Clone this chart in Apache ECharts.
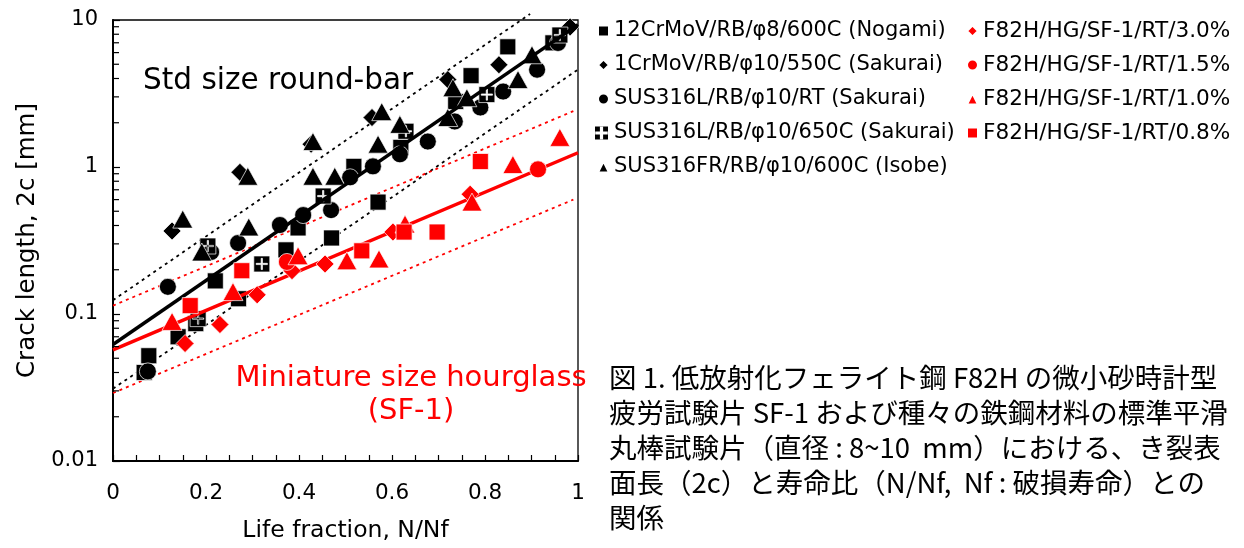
<!DOCTYPE html>
<html>
<head>
<meta charset="utf-8">
<script src="https://cdn.jsdelivr.net/npm/echarts@6/dist/echarts.min.js"></script>
<style>
  html, body { margin: 0; padding: 0; background: #fff; }
  #chart { width: 1244px; height: 548px; }
</style>
</head>
<body>
<div id="chart"></div>
<script>
// Crack length 2c [mm] versus life fraction N/Nf, per material / test condition
const nogami12CrMoV = [[0.067,0.040],[0.077,0.052],[0.14,0.070],[0.178,0.086],[0.22,0.168],[0.27,0.127],
  [0.372,0.273],[0.398,0.385],[0.47,0.329],[0.518,1.01],[0.57,0.577],[0.619,1.36],[0.737,2.79],
  [0.77,4.18],[0.849,6.57],[0.946,6.99]];
const sakurai1CrMoV = [[0.127,0.367],[0.273,0.92],[0.426,1.43],[0.557,2.17],[0.72,3.93],[0.83,4.96],[0.983,8.97]];
const sakurai316L_RT = [[0.075,0.0407],[0.118,0.153],[0.211,0.264],[0.269,0.304],[0.359,0.403],[0.409,0.471],
  [0.469,0.509],[0.51,0.851],[0.559,1.01],[0.617,1.22],[0.677,1.49],[0.735,2.04],[0.79,2.54],
  [0.839,3.26],[0.912,4.59],[0.957,6.98]];
const sakurai316L_650 = [[0.183,0.093],[0.204,0.29],[0.32,0.219],[0.452,0.634],[0.63,1.75],[0.804,3.11],[0.961,7.9]];
const isobe316FR = [[0.15,0.442],[0.191,0.264],[0.29,0.865],[0.292,0.391],[0.43,0.865],[0.43,1.49],[0.477,0.865],
  [0.57,1.43],[0.578,2.38],[0.617,1.95],[0.72,2.17],[0.731,3.46],[0.761,2.96],[0.871,3.93],[0.901,5.8]];
const f82h30 = [[0.155,0.063],[0.23,0.0848],[0.31,0.135],[0.385,0.197],[0.456,0.219],[0.602,0.361],[0.768,0.653]];
const f82h15 = [[0.374,0.226],[0.914,0.964]];
const f82h10 = [[0.127,0.089],[0.258,0.142],[0.398,0.249],[0.503,0.23],[0.572,0.237],[0.628,0.409],
  [0.772,0.577],[0.86,1.04],[0.961,1.59]];
const f82h08 = [[0.166,0.114],[0.277,0.197],[0.535,0.269],[0.626,0.361],[0.697,0.361],[0.79,1.09]];

// Trend lines (straight on the log scale) and their x2 / x0.5 scatter bands
const fitStd = [[0, 0.062], [1, 9.3]];
const bandStdUpper = [[0, 0.124], [0.897, 11.0]];
const bandStdLower = [[0, 0.031], [1, 4.6]];
const fitSF1 = [[0, 0.057], [1, 1.25]];
const bandSF1Upper = [[0, 0.114], [0.99, 2.4]];
const bandSF1Lower = [[0, 0.029], [0.99, 0.6]];

// Tick labels
const xTickLabels = ['0', '0.2', '0.4', '0.6', '0.8', '1'];
const yTickLabels = ['0.01', '0.1', '1', '10'];

const seriesNames = [
  '12CrMoV/RB/φ8/600C (Nogami)',
  '1CrMoV/RB/φ10/550C (Sakurai)',
  'SUS316L/RB/φ10/RT (Sakurai)',
  'SUS316L/RB/φ10/650C (Sakurai)',
  'SUS316FR/RB/φ10/600C (Isobe)',
  'F82H/HG/SF-1/RT/3.0%',
  'F82H/HG/SF-1/RT/1.5%',
  'F82H/HG/SF-1/RT/1.0%',
  'F82H/HG/SF-1/RT/0.8%'
];

// Black square with a white plus cut out (opposite winding makes the hole)
const plusSquare = 'path://M0,0L20,0L20,20L0,20Z M9.2,3L9.2,9.2L3,9.2L3,10.8L9.2,10.8L9.2,17L10.8,17L10.8,10.8L17,10.8L17,9.2L10.8,9.2L10.8,3Z';

const FONT = 'DejaVu Sans';
const RED = '#ff0000';

// Log-spaced minor ticks for the vertical axis
const yMinor = [];
[0.01, 0.1, 1].forEach(d => { for (let m = 2; m <= 9; m++) yMinor.push([0, +(d * m).toPrecision(3)]); });

function scatter(name, data, symbol, size, color, z) {
  return {
    name, type: 'scatter', data, symbol, symbolSize: size,
    itemStyle: { color, borderColor: '#fff', borderWidth: 0.7, opacity: 1 },
    emphasis: { disabled: true }, z: z || 3
  };
}
function line(data, color, width, dotted) {
  return {
    type: 'line', data, symbol: 'none', silent: true, clip: false,
    lineStyle: { color, width, type: dotted ? [3, 4] : 'solid', cap: 'butt' },
    z: dotted ? 1 : 4
  };
}
function legendBlock(items, left, top, size, fontSize) {
  return {
    data: items, orient: 'vertical', left, top, itemGap: 10,
    itemWidth: size, itemHeight: size, selectedMode: false,
    textStyle: { fontFamily: FONT, fontSize, color: '#000', lineHeight: 24 }
  };
}

const chart = echarts.init(document.getElementById('chart'), null, { renderer: 'canvas' });

chart.setOption({
  animation: false,
  backgroundColor: '#fff',
  textStyle: { fontFamily: FONT },
  grid: { left: 113, right: 666, top: 20, bottom: 85, show: true, borderColor: '#000', borderWidth: 1.3, backgroundColor: 'transparent' },
  xAxis: {
    type: 'value', min: 0, max: 1, interval: 0.05,
    name: 'Life fraction, N/Nf', nameLocation: 'middle', nameGap: 58,
    nameTextStyle: { fontFamily: FONT, fontSize: 23.5, color: '#000' },
    axisLine: { lineStyle: { color: '#000', width: 2 } },
    axisTick: { inside: true, length: 6, lineStyle: { color: '#000', width: 1.2 } },
    splitLine: { show: false },
    axisLabel: {
      fontFamily: FONT, fontSize: 21.5, color: '#000', margin: 21,
      formatter: v => xTickLabels.find(s => Math.abs(parseFloat(s) - v) < 1e-6) || ''
    }
  },
  yAxis: {
    type: 'log', logBase: 10, min: 0.01, max: 10,
    name: 'Crack length, 2c [mm]', nameLocation: 'middle', nameGap: 73,
    nameTextStyle: { fontFamily: FONT, fontSize: 24.5, color: '#000' },
    axisLine: { lineStyle: { color: '#000', width: 2 } },
    axisTick: { inside: true, length: 7, lineStyle: { color: '#000', width: 1.2 } },
    splitLine: { show: false },
    axisLabel: {
      fontFamily: FONT, fontSize: 21, color: '#000', margin: 15,
      formatter: v => yTickLabels.find(s => Math.abs(parseFloat(s) - v) / v < 1e-6) || ''
    }
  },
  legend: [
    legendBlock([
      { name: seriesNames[0], icon: 'rect' },
      { name: seriesNames[1], icon: 'diamond' },
      { name: seriesNames[2], icon: 'circle' }
    ], 592, 14, 11, 21),
    legendBlock([{ name: seriesNames[3], icon: plusSquare }], 588, 116, 15, 21),
    legendBlock([{ name: seriesNames[4], icon: 'triangle' }], 592, 150, 11, 21),
    legendBlock([
      { name: seriesNames[5], icon: 'diamond' },
      { name: seriesNames[6], icon: 'circle' },
      { name: seriesNames[7], icon: 'triangle' },
      { name: seriesNames[8], icon: 'rect' }
    ], 961, 14, 11, 21.6)
  ],
  series: [
    line(bandStdUpper, '#000', 1.8, true),
    line(bandStdLower, '#000', 1.8, true),
    line(bandSF1Upper, RED, 1.8, true),
    line(bandSF1Lower, RED, 1.8, true),
    scatter(seriesNames[0], nogami12CrMoV, 'rect', 16, '#000'),
    scatter(seriesNames[1], sakurai1CrMoV, 'diamond', 18, '#000'),
    scatter(seriesNames[2], sakurai316L_RT, 'circle', 17, '#000'),
    scatter(seriesNames[3], sakurai316L_650, plusSquare, 16, '#000'),
    scatter(seriesNames[4], isobe316FR, 'triangle', [20, 18], '#000'),
    line(fitStd, '#000', 3.5, false),
    line(fitSF1, RED, 3.5, false),
    scatter(seriesNames[5], f82h30, 'diamond', 18, RED, 5),
    scatter(seriesNames[6], f82h15, 'circle', 17, RED, 5),
    scatter(seriesNames[7], f82h10, 'triangle', [20, 18], RED, 5),
    scatter(seriesNames[8], f82h08, 'rect', 16, RED, 5),
    {
      type: 'custom', silent: true, data: yMinor, z: 6,
      renderItem: (params, api) => {
        const p = api.coord([0, api.value(1)]);
        return { type: 'line', shape: { x1: p[0], y1: p[1], x2: p[0] + 6, y2: p[1] },
                 style: { stroke: '#000', lineWidth: 1.2 } };
      }
    }
  ],
  graphic: [
    { type: 'text', x: 143, y: 81, z: 10,
      style: { text: 'Std size round-bar', fill: '#000', font: '29.5px "DejaVu Sans"', align: 'left', verticalAlign: 'middle' } },
    { type: 'text', x: 411, y: 378, z: 10,
      style: { text: 'Miniature size hourglass', fill: RED, font: '29px "DejaVu Sans"', align: 'center', verticalAlign: 'middle' } },
    { type: 'text', x: 411, y: 411, z: 10,
      style: { text: '(SF-1)', fill: RED, font: '29px "DejaVu Sans"', align: 'center', verticalAlign: 'middle' } },
    { type: 'text', x: 609, y: 360, z: 10,
      style: {
        text: '図 1. 低放射化フェライト鋼 F82H の微小砂時計型\n疲労試験片 SF-1 および種々の鉄鋼材料の標準平滑\n丸棒試験片（直径 : 8~10  mm）における、き裂表\n面長（2c）と寿命比（N/Nf,  Nf : 破損寿命）との\n関係',
        fill: '#000', font: '27.5px "Noto Sans CJK JP"', lineHeight: 35, align: 'left', verticalAlign: 'top'
      } }
  ]
});
</script>
</body>
</html>
